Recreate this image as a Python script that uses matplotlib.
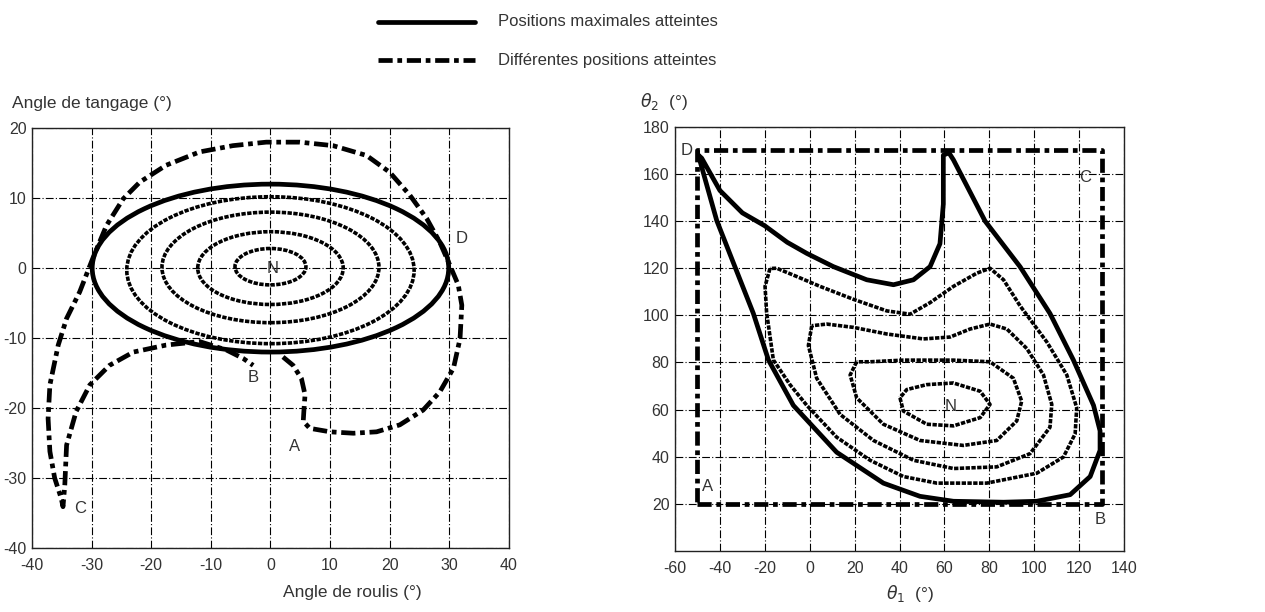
import matplotlib
matplotlib.use('Agg')
import matplotlib.pyplot as plt
from matplotlib.lines import Line2D
from matplotlib.patches import Ellipse

plt.rcParams.update({
    'font.family': ['Liberation Sans', 'DejaVu Sans'],
    'font.size': 10,
    'text.color': '#333333',
    'xtick.color': '#333333',
    'ytick.color': '#333333',
    'axes.unicode_minus': False,
})

# --- left panel: roll / pitch -------------------------------------------
# solid ellipse = max reached, dotted ellipses = intermediate levels
ell_cx = [0.0, 0.0, 0.0, 0.0, 0.0]
ell_cy = [0.0, -0.3, 0.1, 0.0, 0.2]
ell_w = [59.8, 48.2, 36.4, 24.4, 11.9]
ell_h = [24.0, 21.0, 15.8, 10.4, 5.2]
ell_solid = [True, False, False, False, False]

roll_path = [2.1, 3.8, 5.2, 5.8, 5.6, 5.5, 6.6, 10.0, 13.9, 17.8, 21.7, 25.6,
             28.4, 30.7, 31.8, 32.1, 31.5, 30.1, 28.4, 26.2, 23.4, 20.0, 16.1,
             10.5, 4.9, -0.7, -6.3, -11.9, -17.5, -21.9, -24.7, -27.5, -29.8,
             -32.0, -34.2, -35.6, -37.0, -37.3, -37.0, -36.2, -35.1, -34.8,
             -34.5, -34.2, -32.6, -30.3, -27.0, -23.0, -17.5, -11.9, -7.4,
             -4.6, -2.9]
pitch_path = [-12.7, -13.9, -15.8, -18.1, -20.5, -21.9, -22.9, -23.4, -23.6,
              -23.4, -22.4, -20.3, -17.7, -14.3, -10.1, -5.3, -2.4, 0.4, 3.7,
              7.1, 10.4, 13.7, 16.1, 17.5, 18.0, 18.0, 17.5, 16.6, 14.7, 12.3,
              9.9, 6.1, 1.4, -3.4, -7.2, -11.0, -16.7, -21.5, -26.2, -30.0,
              -32.9, -34.1, -31.0, -25.3, -20.5, -16.7, -13.9, -12.0, -11.0,
              -10.5, -11.7, -12.9, -13.9]

left_labels = ['A', 'B', 'C', 'D', 'N']
left_lab_x = [4.0, -2.9, -32.0, 32.1, 0.4]
left_lab_y = [-25.5, -15.6, -34.3, 4.3, 0.0]

# --- right panel: theta1 / theta2 ---------------------------------------
rect_t1 = [-50, 130, 130, -50, -50]
rect_t2 = [20, 20, 170, 170, 20]

outer_t1 = [-49.6, -41.4, -33.3, -25.1, -18.4, -7.3, 12.0, 32.8, 49.1, 64.0,
            86.3, 101.1, 116.0, 124.9, 129.3, 129.3, 126.4, 117.4, 107.0,
            93.7, 78.1, 64.0, 62.0, 59.5, 59.5, 58.0, 53.6, 46.2, 37.3, 25.4,
            10.5, -1.3, -10.0, -20.0, -30.0, -40.0, -48.1, -49.6]
outer_t2 = [168.0, 140.2, 120.6, 100.8, 81.1, 61.8, 41.9, 28.8, 23.2, 21.1,
            20.7, 21.1, 23.9, 31.6, 42.7, 51.0, 61.8, 81.1, 100.8, 120.6,
            140.0, 166.0, 169.0, 168.0, 147.2, 130.4, 120.7, 115.1, 113.0,
            115.1, 120.7, 126.3, 131.0, 138.0, 143.5, 153.0, 166.7, 168.0]

c1_t1 = [-17.7, -19.9, -19.2, -16.2, -8.8, -1.3, 12.0, 26.9, 41.7, 56.6, 78.8,
         101.1, 113.0, 118.2, 118.9, 114.5, 105.6, 93.7, 86.3, 80.3, 74.4,
         64.0, 53.6, 44.7, 34.3, 19.5, 4.6, -5.8, -14.7, -17.7]
c1_t2 = [119.9, 112.3, 101.2, 81.1, 70.6, 61.8, 48.3, 38.5, 31.6, 28.8, 28.8,
         33.0, 39.9, 49.7, 60.8, 74.7, 88.7, 104.0, 115.1, 120.0, 117.9,
         112.3, 105.4, 100.5, 101.9, 106.8, 112.3, 116.5, 120.0, 119.9]

c2_t1 = [0.9, -0.6, 3.1, 13.5, 28.4, 46.2, 64.0, 83.3, 98.1, 107.0, 107.8,
         104.1, 96.7, 87.8, 80.3, 71.4, 62.5, 50.6, 34.3, 19.5, 7.6, 0.9]
c2_t2 = [95.6, 87.2, 73.3, 58.0, 46.9, 38.5, 35.0, 35.7, 41.3, 52.5, 62.2,
         74.7, 85.9, 94.2, 96.3, 94.2, 90.8, 90.0, 92.1, 94.9, 96.3, 95.6]

c3_t1 = [20.9, 18.0, 20.9, 32.8, 49.1, 68.4, 83.3, 92.2, 94.4, 90.7, 80.3,
         64.0, 41.7, 26.9, 20.9]
c3_t2 = [80.3, 74.7, 65.0, 53.8, 46.9, 44.8, 46.9, 55.2, 63.6, 73.3, 80.3,
         81.0, 81.0, 80.3, 80.3]

c4_t1 = [40.2, 41.7, 52.1, 64.0, 75.9, 80.3, 75.9, 64.0, 52.1, 43.2, 40.2]
c4_t2 = [65.0, 59.4, 53.8, 53.1, 56.6, 62.2, 67.8, 71.3, 70.6, 68.5, 65.0]

right_labels = ['A', 'B', 'C', 'D', 'N']
right_lab_x = [-45.6, 129.3, 122.6, -54.8, 62.8]
right_lab_y = [27.4, 13.5, 158.3, 170.1, 61.5]

SOLID = dict(color='black', lw=3.4, solid_capstyle='round', solid_joinstyle='round')
DOTTED = dict(color='black', lw=2.6, dashes=(1.2, 0.4))
DASHDOT = dict(color='black', lw=3.4, dashes=(3.0, 1.0, 1.0, 1.0))
GRID = dict(color='black', lw=0.8, dashes=(7, 2, 1, 2))


def _style_axes(ax):
    ax.grid(True, **GRID)
    ax.tick_params(length=0, labelsize=11.5)
    ax.tick_params(axis='x', pad=7)
    ax.tick_params(axis='y', pad=4)
    for sp in ax.spines.values():
        sp.set_linewidth(1.0)
        sp.set_color('#222222')


fig = plt.figure(figsize=(12.65, 6.12), dpi=100)

# left panel
ax1 = fig.add_axes([0.0253, 0.1046, 0.377, 0.686])
for cx, cy, w, h, solid in zip(ell_cx, ell_cy, ell_w, ell_h, ell_solid):
    style = dict(lw=3.4) if solid else dict(lw=2.6, linestyle=(0, (1.2, 0.4)))
    ax1.add_patch(Ellipse((cx, cy), w, h, fill=False, edgecolor='black', **style))
ax1.plot(roll_path, pitch_path, **DASHDOT)
for s, x, y in zip(left_labels, left_lab_x, left_lab_y):
    ax1.text(x, y, s, ha='center', va='center', fontsize=12, color='#333333')
ax1.set_xlim(-40, 40)
ax1.set_ylim(-40, 20)
ax1.set_xticks(range(-40, 41, 10))
ax1.set_yticks(range(-40, 21, 10))
_style_axes(ax1)

# right panel
ax2 = fig.add_axes([0.5336, 0.0997, 0.355, 0.693])
ax2.plot(rect_t1, rect_t2, **DASHDOT)
ax2.plot(outer_t1, outer_t2, **SOLID)
for xs, ys in [(c1_t1, c1_t2), (c2_t1, c2_t2), (c3_t1, c3_t2), (c4_t1, c4_t2)]:
    ax2.plot(xs, ys, **DOTTED)
for s, x, y in zip(right_labels, right_lab_x, right_lab_y):
    ax2.text(x, y, s, ha='center', va='center', fontsize=12, color='#333333')
ax2.set_xlim(-60, 140)
ax2.set_ylim(0, 180)
ax2.set_xticks(range(-60, 141, 20))
ax2.set_yticks(range(20, 181, 20))
_style_axes(ax2)

# axis titles
fig.text(12 / 1265, 1 - 103 / 612, 'Angle de tangage (°)', fontsize=12.5, va='center')
fig.text(352 / 1265, 1 - 592 / 612, 'Angle de roulis (°)', fontsize=12.5,
         ha='center', va='center')
fig.text(640 / 1265, 1 - 101 / 612, r'$\theta_2$  (°)', fontsize=12.5, va='center')
fig.text(910 / 1265, 1 - 594 / 612, r'$\theta_1$  (°)', fontsize=12.5,
         ha='center', va='center')

# legend drawn by hand at the top
fig.add_artist(Line2D([378 / 1265, 475 / 1265], [1 - 22 / 612] * 2,
                      transform=fig.transFigure, **SOLID))
fig.add_artist(Line2D([378 / 1265, 475 / 1265], [1 - 60 / 612] * 2,
                      transform=fig.transFigure, **DASHDOT))
fig.text(498 / 1265, 1 - 22 / 612, 'Positions maximales atteintes',
         fontsize=12, va='center')
fig.text(498 / 1265, 1 - 60 / 612, 'Différentes positions atteintes',
         fontsize=12, va='center')

fig.savefig('out.png', dpi=100)
